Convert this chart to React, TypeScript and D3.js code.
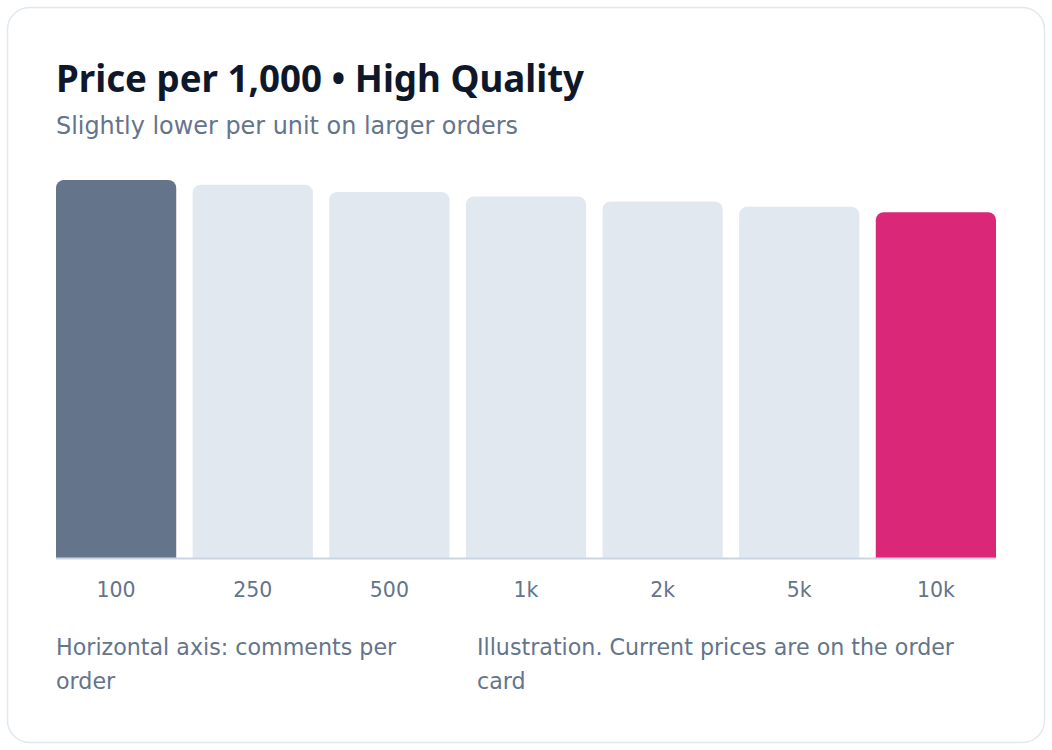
import * as d3 from 'd3'

const tiers = ['100', '250', '500', '1k', '2k', '5k', '10k']
const prices = [12.0, 11.85, 11.62, 11.48, 11.32, 11.15, 10.98]
const barColors = ['#64748b', '#e2e8f0', '#e2e8f0', '#e2e8f0', '#e2e8f0', '#e2e8f0', '#db2777']
const noteLeft = ['Horizontal axis: comments per', 'order']
const noteRight = ['Illustration. Current prices are on the order', 'card']

const W = 1052
const H = 750
const bodyFont = '"DejaVu Sans", "Noto Sans", sans-serif'
const titleFont = '"Noto Sans", "Open Sans", sans-serif'

function topRounded(x: number, y: number, w: number, h: number, r: number) {
  const p = d3.path()
  p.moveTo(x, y + h)
  p.lineTo(x, y + r)
  p.arcTo(x, y, x + r, y, r)
  p.lineTo(x + w - r, y)
  p.arcTo(x + w, y, x + w, y + r, r)
  p.lineTo(x + w, y + h)
  p.closePath()
  return p.toString()
}

export default function App() {
  const x = d3.scaleBand<string>()
    .domain(tiers)
    .range([56, 996])
    .paddingInner(0.12)
    .paddingOuter(0)
  const y = d3.scaleLinear()
    .domain([0, d3.max(prices)!])
    .range([558, 180])

  return (
    <svg width={W} height={H} style={{ position: 'absolute', left: 0, top: 0 }} fontFamily={bodyFont}>
      <rect x={7.5} y={7.5} width={1037} height={735} rx={22} fill="#fff" stroke="#e2e8f0" strokeWidth={1.5} />
      <text x={56} y={92} fontSize={36.7} fontWeight={700} fill="#0f172a" fontFamily={titleFont}>Price per 1,000 • High Quality</text>
      <text x={56} y={134} fontSize={23.9} fill="#64748b">Slightly lower per unit on larger orders</text>

      {prices.map((v, i) => (
        <path key={tiers[i]}
          d={topRounded(x(tiers[i])!, y(v), x.bandwidth(), y(0) - y(v), 8)}
          fill={barColors[i]} />
      ))}
      <line x1={56} x2={996} y1={558.5} y2={558.5} stroke="#cbd5e1" strokeWidth={2} />

      {tiers.map(t => (
        <text key={t} x={x(t)! + x.bandwidth() / 2} y={597} textAnchor="middle" fontSize={20.5} fill="#64748b">{t}</text>
      ))}

      <text x={56} y={655} fontSize={22.2} fill="#64748b">
        {noteLeft.map((l, i) => <tspan key={i} x={56} dy={i === 0 ? 0 : 34}>{l}</tspan>)}
      </text>
      <text x={477} y={655} fontSize={22.2} fill="#64748b">
        {noteRight.map((l, i) => <tspan key={i} x={477} dy={i === 0 ? 0 : 34}>{l}</tspan>)}
      </text>
    </svg>
  )
}
